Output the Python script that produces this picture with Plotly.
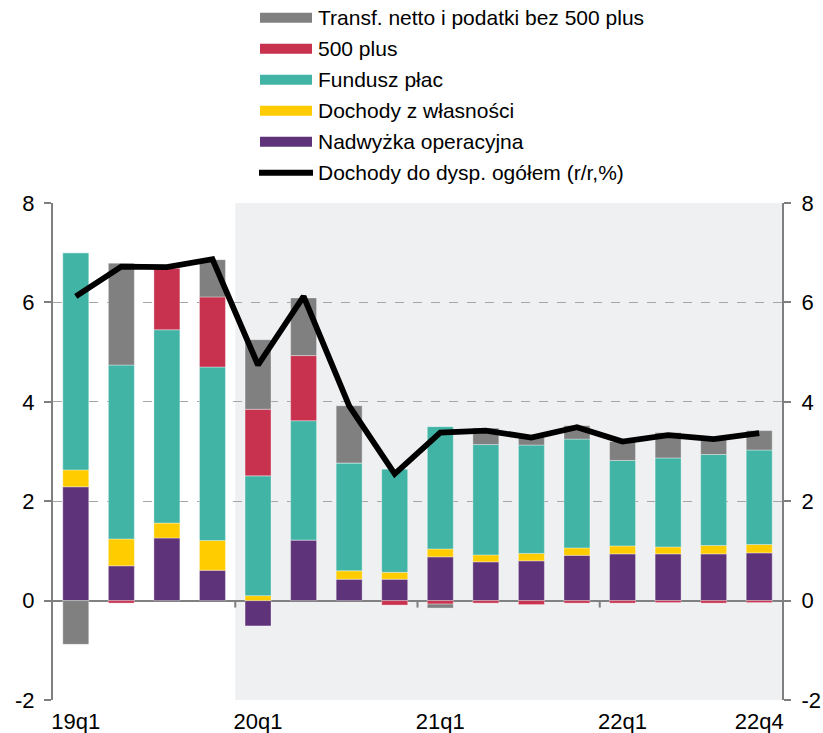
import plotly.graph_objects as go

categories = ["19q1", "19q2", "19q3", "19q4", "20q1", "20q2", "20q3", "20q4",
              "21q1", "21q2", "21q3", "21q4", "22q1", "22q2", "22q3", "22q4"]
tick_labels = ["19q1", "20q1", "21q1", "22q1", "22q4"]
y_tick_vals = [-2, 0, 2, 4, 6, 8]
y_tick_text = ["-2", "0", "2", "4", "6", "8"]

nadwyzka = [2.29, 0.70, 1.26, 0.61, -0.51, 1.22, 0.43, 0.43, 0.88, 0.78, 0.80, 0.91, 0.94, 0.94, 0.94, 0.96]
wlasnosc = [0.34, 0.54, 0.30, 0.60, 0.10, 0.00, 0.17, 0.14, 0.16, 0.14, 0.15, 0.15, 0.16, 0.14, 0.17, 0.17]
fundusz = [4.37, 3.50, 3.89, 3.49, 2.41, 2.40, 2.17, 2.08, 2.46, 2.22, 2.18, 2.19, 1.72, 1.79, 1.83, 1.90]
plus500 = [0.00, -0.05, 1.24, 1.41, 1.34, 1.31, 0.00, -0.09, -0.07, -0.05, -0.08, -0.05, -0.05, -0.04, -0.05, -0.04]
transf = [-0.88, 2.05, 0.00, 0.75, 1.40, 1.16, 1.15, 0.00, -0.08, 0.33, 0.16, 0.27, 0.38, 0.51, 0.33, 0.39]
dochody = [6.12, 6.72, 6.71, 6.87, 4.74, 6.12, 3.92, 2.55, 3.38, 3.42, 3.28, 3.49, 3.20, 3.33, 3.25, 3.37]

names = ["Transf. netto i podatki bez 500 plus", "500 plus", "Fundusz płac",
         "Dochody z własności", "Nadwyżka operacyjna", "Dochody do dysp. ogółem (r/r,%)"]
colors = ["#808080", "#c8324f", "#42b4a6", "#ffcc00", "#5e3379", "#000000"]

FONT = "Liberation Sans, Arial, sans-serif"
AX = "#7f7f7f"

fig = go.Figure()
series = [(nadwyzka, 4), (wlasnosc, 3), (fundusz, 2), (plus500, 1), (transf, 0)]
for vals, idx in series:
    fig.add_trace(go.Bar(x=categories, y=vals, name=names[idx],
                         marker=dict(color=colors[idx],
                                     line=dict(color="rgba(255,255,255,0.35)", width=1)),
                         showlegend=False))
fig.add_trace(go.Scatter(x=categories, y=dochody, name=names[5], mode="lines",
                         line=dict(color=colors[5], width=5.8), yaxis="y2",
                         showlegend=False))

# body margin is removed in the page (post_script), so the figure fills 823x733
FW, FH = 823, 733
L, R, T, B = 53, 41, 203, 33
W, H = FW - L - R, FH - T - B

def px(x):
    return (x - L) / W

def py(y):
    return (FH - B - y) / H

shapes = [
    dict(type="rect", xref="x", yref="y", x0=3.5, x1=15.5, y0=-2, y1=8,
         fillcolor="#eff0f2", line=dict(width=0), layer="below"),
]
for xv in [3.5, 7.5, 11.5]:
    shapes.append(dict(type="line", xref="x", yref="y", x0=xv, x1=xv, y0=0, y1=-0.14,
                       line=dict(color=AX, width=2)))

annotations = []
for i, (nm, col) in enumerate(zip(names, colors)):
    cy = 17.8 + 31.0 * i
    if i < 5:
        shapes.append(dict(type="rect", xref="paper", yref="paper",
                           x0=px(260), x1=px(312), y0=py(cy + 5), y1=py(cy - 5),
                           fillcolor=col, line=dict(width=0)))
    else:
        shapes.append(dict(type="line", xref="paper", yref="paper",
                           x0=px(259), x1=px(313), y0=py(cy), y1=py(cy),
                           line=dict(color=col, width=6)))
    annotations.append(dict(xref="paper", yref="paper", x=px(317), y=py(cy),
                            xanchor="left", yanchor="middle", text=nm, showarrow=False,
                            borderpad=0,
                            font=dict(family=FONT, size=21, color="#000")))

yax = dict(range=[-2, 8], tickmode="array", tickvals=y_tick_vals, ticktext=y_tick_text,
           showline=True, linecolor=AX, linewidth=2,
           ticks="outside", ticklen=7, tickwidth=2, tickcolor=AX,
           tickfont=dict(family=FONT, size=22, color="#000"), automargin=False)

fig.update_layout(
    template="none",
    width=FW, height=FH,
    margin=dict(l=L, r=R, t=T, b=B),
    paper_bgcolor="white", plot_bgcolor="rgba(0,0,0,0)",
    barmode="relative", bargap=0.43,
    showlegend=False,
    font=dict(family=FONT, size=22, color="#000"),
    xaxis=dict(type="category", categoryorder="array", categoryarray=categories,
               range=[-0.5, 15.5], showgrid=False, showline=False, zeroline=False,
               ticks="", tickvals=tick_labels, ticktext=tick_labels,
               tickfont=dict(family=FONT, size=22, color="#000"), automargin=False,
               ticklabelstandoff=6),
    yaxis=dict(**yax, showgrid=True, gridcolor="#a6a6a6", gridwidth=1, griddash="dash",
               zeroline=True, zerolinecolor="#808080", zerolinewidth=1.5,
               ticklabelstandoff=5),
    yaxis2=dict(**yax, overlaying="y", side="right", showgrid=False, zeroline=False,
                ticklabelstandoff=6),
    shapes=shapes,
    annotations=annotations,
)

fig.write_html("out.html",
               config={"displayModeBar": False},
               post_script="document.body.style.margin='0';document.body.style.overflow='hidden';")
